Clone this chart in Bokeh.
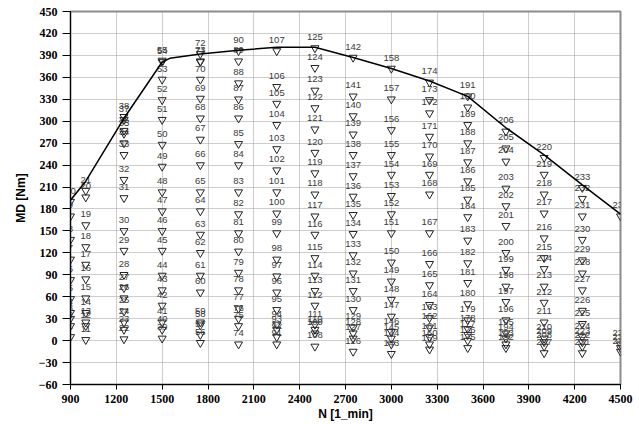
from bokeh.plotting import figure
from bokeh.models import (ColumnDataSource, Range1d, LinearAxis, FixedTicker,
                          SingleIntervalTicker, Grid)
from bokeh.core.properties import value
from bokeh.embed import file_html
from bokeh.resources import INLINE

# ---------------- data ----------------
speeds = [900, 1000, 1250, 1500, 1750, 2000, 2250, 2500, 2750,
          3000, 3250, 3500, 3750, 4000, 4250, 4500]

ids_0900 = [1, 2, 3, 4, 5, 6, 7, 8, 9, 10]
tq_0900 = [5, 20, 30, 38, 57, 83, 111, 138, 170, 190]

ids_1000 = [11, 12, 13, 14, 15, 16, 17, 18, 19, 20, 21]
tq_1000 = [1, 20, 25, 38, 58, 84, 104, 128, 158, 196, 205]

ids_1250 = [22, 23, 24, 25, 26, 27, 28, 29, 30, 31, 32, 33, 34, 35, 36, 37, 38]
tq_1250 = [2, 15, 25, 40, 58, 72, 90, 123, 150, 195, 220, 254, 270, 283, 287, 302, 306]

ids_1500 = [39, 40, 41, 42, 43, 44, 45, 46, 47, 48, 49, 50, 51, 52, 53, 54, 55]
tq_1500 = [3, 15, 25, 48, 69, 89, 123, 150, 177, 203, 238, 268, 302, 329, 357, 381, 383]

ids_1750 = [56, 57, 58, 59, 60, 61, 62, 63, 64, 65, 66, 67, 68, 69, 70, 71, 72, 73]
tq_1750 = [-3, 8, 21, 25, 66, 89, 120, 145, 177, 203, 240, 275, 304, 331, 357, 381, 392, 382]

ids_2000 = [74, 75, 76, 77, 78, 79, 80, 81, 82, 83, 84, 85, 86, 87, 88, 89, 90]
tq_2000 = [-5, 20, 30, 44, 69, 93, 122, 147, 173, 203, 240, 269, 304, 330, 352, 382, 396]

ids_2250 = [91, 92, 93, 94, 95, 96, 97, 98, 99, 100, 101, 102, 103, 104, 105, 106, 107]
tq_2250 = [-5, 5, 15, 22, 42, 66, 88, 111, 147, 174, 203, 233, 262, 295, 324, 347, 396]

ids_2500 = [108, 109, 110, 111, 112, 113, 114, 115, 116, 117, 118, 119, 120, 121,
            122, 123, 124, 125]
tq_2500 = [-8, 10, 15, 22, 48, 68, 89, 113, 145, 170, 200, 229, 257, 289, 318, 342, 373, 400]

ids_2750 = [126, 127, 128, 129, 130, 131, 132, 133, 134, 135, 136, 137, 138, 139,
            140, 141, 142]
tq_2750 = [-15, 3, 10, 18, 42, 68, 92, 117, 146, 172, 197, 225, 254, 282, 307, 334, 387]

ids_3000 = [143, 144, 145, 146, 147, 148, 149, 150, 151, 152, 153, 154, 155, 156,
            157, 158]
tq_3000 = [-18, -5, 3, 12, 33, 56, 81, 107, 147, 173, 198, 227, 254, 288, 330, 372]

ids_3250 = [159, 160, 161, 162, 163, 164, 165, 166, 167, 168, 169, 170, 171, 172,
            173, 174]
tq_3250 = [-12, -5, 5, 18, 31, 49, 76, 105, 147, 200, 227, 252, 279, 311, 329, 353]

ids_3500 = [175, 176, 177, 178, 179, 180, 181, 182, 183, 184, 185, 186, 187, 188,
            189, 190, 191]
tq_3500 = [-10, 0, 8, 16, 28, 50, 79, 106, 137, 169, 193, 218, 244, 270, 295, 319, 334]

ids_3750 = [192, 193, 194, 195, 196, 197, 198, 199, 200, 201, 202, 203, 204, 205, 206]
tq_3750 = [-10, -5, 3, 10, 28, 53, 74, 97, 120, 157, 184, 208, 245, 263, 286]

ids_4000 = [207, 208, 209, 210, 211, 212, 213, 214, 215, 216, 217, 218, 219, 220]
tq_4000 = [-17, -8, -2, 3, 25, 52, 74, 98, 113, 140, 174, 200, 227, 250]

ids_4250 = [221, 222, 223, 224, 225, 226, 227, 228, 229, 230, 231, 232, 233]
tq_4250 = [-17, -8, -2, 5, 23, 41, 69, 92, 110, 138, 170, 194, 209]

ids_4500 = [234, 235, 236, 237]
tq_4500 = [-5, -10, -15, 170]

group_ids = [ids_0900, ids_1000, ids_1250, ids_1500, ids_1750, ids_2000, ids_2250,
             ids_2500, ids_2750, ids_3000, ids_3250, ids_3500, ids_3750, ids_4000,
             ids_4250, ids_4500]
group_tq = [tq_0900, tq_1000, tq_1250, tq_1500, tq_1750, tq_2000, tq_2250,
            tq_2500, tq_2750, tq_3000, tq_3250, tq_3500, tq_3750, tq_4000,
            tq_4250, tq_4500]

# full-load curve
curve_speed = [900, 1000, 1250, 1500, 1550, 1750, 2000, 2250, 2500, 2750, 3000,
               3250, 3500, 3750, 4000, 4250, 4500]
curve_torque = [192, 218, 304, 381, 386, 392, 397, 401, 401, 387, 372, 355, 334,
                291, 254, 213, 173]

x_ticks_step = 300
y_ticks_step = 30

# ---------------- build ----------------
xs, ys, labels = [], [], []
for sp, ids, tqs in zip(speeds, group_ids, group_tq):
    for i, t in zip(ids, tqs):
        xs.append(sp)
        ys.append(t)
        labels.append(str(i))
src = ColumnDataSource(dict(x=xs, y=ys, label=labels))

p = figure(width=639, height=424, output_backend="svg", toolbar_location=None,
           x_range=Range1d(900, 4500), y_range=Range1d(-60, 450),
           x_axis_location=None, y_axis_location=None,
           min_border_left=70, min_border_right=19, min_border_top=11,
           min_border_bottom=40, background_fill_color="white",
           border_fill_color="white")
p.center = []
p.outline_line_color = "#8c8c8c"
p.outline_line_width = 2

xticker = SingleIntervalTicker(interval=x_ticks_step, num_minor_ticks=0)
yticker = SingleIntervalTicker(interval=y_ticks_step, num_minor_ticks=0)

p.add_layout(Grid(dimension=0, ticker=xticker, grid_line_color="#9a9a9a",
                  grid_line_dash="1 1", grid_line_width=1))
p.add_layout(Grid(dimension=1, ticker=yticker, grid_line_color="#9a9a9a",
                  grid_line_dash="1 1", grid_line_width=1))


def inner_axis():
    return LinearAxis(ticker=FixedTicker(ticks=[]), major_tick_out=2,
                      major_tick_in=0, minor_tick_out=0, minor_tick_in=0,
                      major_label_text_font_size="0px", major_label_standoff=0,
                      axis_line_color="black", axis_line_width=1)


def style_axis(ax, tick_out, standoff_label, axis_label_standoff):
    ax.axis_line_color = "black"
    ax.axis_line_width = 1
    ax.major_tick_out = tick_out
    ax.major_tick_in = 0
    ax.minor_tick_out = 0
    ax.minor_tick_in = 0
    ax.major_tick_line_color = "black"
    ax.major_label_text_font = "Liberation Sans Narrow"
    ax.major_label_text_font_style = "bold"
    ax.major_label_text_font_size = "12px"
    ax.major_label_text_color = "black"
    ax.major_label_standoff = standoff_label
    ax.axis_label_text_font = "Liberation Sans"
    ax.axis_label_text_font_style = "bold"
    ax.axis_label_text_font_size = "12px"
    ax.axis_label_text_color = "black"
    ax.axis_label_standoff = axis_label_standoff


yaxis = LinearAxis(ticker=yticker, axis_label="MD [Nm]")
style_axis(yaxis, 8, 5, 8)
xaxis = LinearAxis(ticker=xticker, axis_label="N [1_min]")
style_axis(xaxis, 5, 5, 1)

p.add_layout(inner_axis(), "left")
p.add_layout(yaxis, "left")
p.add_layout(inner_axis(), "below")
p.add_layout(xaxis, "below")

p.scatter("x", "y", source=src, marker="inverted_triangle", size=8,
          fill_color=None, line_color="#222222", line_width=1)
p.text("x", "y", text="label", source=src, text_font=value("Liberation Sans"),
       text_font_size="9.5px", text_align="center", text_baseline="middle",
       y_offset=-11, text_color="#3a3a3a")
p.line(curve_speed, curve_torque, line_color="black", line_width=1.5)

open("out.html", "w").write(file_html(p, INLINE))
